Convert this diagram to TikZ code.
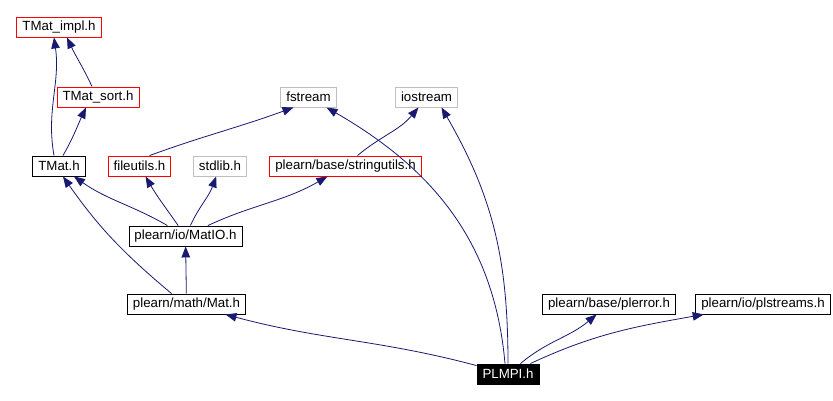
\documentclass[tikz,border=0pt]{standalone}
\usepackage{fontspec}
\setmainfont{Liberation Sans}
\usepackage{xcolor}
\usepackage{tikz}
\usetikzlibrary{arrows.meta,positioning}
\definecolor{edgeblue}{RGB}{25,25,112}
\definecolor{missgray}{RGB}{191,191,191}
\tikzset{
  box/.style={rectangle, draw=#1, fill=white, line width=0.9pt,
              minimum height=20pt, inner xsep=5.5pt, inner ysep=0pt,
              font=\fontsize{13.3}{15}\selectfont, text=black, text centered},
  arr/.style={-{Triangle[length=11pt,width=8.5pt]}, draw=edgeblue, line width=0.8pt, #1},
}

\begin{document}
\begin{tikzpicture}[x=1pt,y=-1pt]
        \useasboundingbox (0,0) rectangle (833,401);
        % include files
        \node[box=red] (tmatimpl) at (59,27) {TMat\_impl.h};
        \node[box=red] (tmatsort) at (98,97) {TMat\_sort.h};
        \node[box=missgray] (fstream) at (308.5,97) {fstream};
        \node[box=missgray] (iostream) at (426.5,97) {iostream};
        \node[box=black] (tmat) at (59,166) {TMat.h};
        \node[box=red] (fileutils) at (139.5,166) {fileutils.h};
        \node[box=missgray] (stdlib) at (220,166) {stdlib.h};
        \node[box=red] (stringutils) at (345.5,166) {plearn/base/stringutils.h};
        \node[box=black] (matio) at (185.5,236) {plearn/io/MatIO.h};
        \node[box=black] (mat) at (186.5,304) {plearn/math/Mat.h};
        \node[box=black] (plerror) at (609,304) {plearn/base/plerror.h};
        \node[box=black] (plstreams) at (763,304) {plearn/io/plstreams.h};
        \node[box=black, fill=black, text=white] (plmpi) at (508,374) {PLMPI.h};
        % dependencies
        \draw[arr] ([xshift=-6pt]tmatsort.north) to[out=115,in=-65] ([xshift=8pt]tmatimpl.south);
        \draw[arr] ([xshift=-5pt]tmat.north) to[out=100,in=-82] ([xshift=-5pt]tmatimpl.south);
        \draw[arr] ([xshift=4pt]tmat.north) to[out=60,in=-115] ([xshift=-12pt]tmatsort.south);
        \draw[arr] ([xshift=10pt]fileutils.north) to[out=20,in=-160] ([xshift=-15pt]fstream.south);
        \draw[arr] ([xshift=12pt]stringutils.north) to[out=40,in=-130] ([xshift=-8pt]iostream.south);
        \draw[arr] (matio) to[out=150,in=-35] (tmat);
        \draw[arr] (matio) to[out=125,in=-60] (fileutils);
        \draw[arr] (matio) to[out=65,in=-110] (stdlib);
        \draw[arr] (matio) to[out=25,in=-150] (stringutils);
        \draw[arr] (mat) -- (matio);
        \draw[arr] ([xshift=-15pt]mat.north) to[out=140,in=-55] ([xshift=4pt]tmat.south);
        \draw[arr] (plmpi) to[out=165,in=-15] (mat);
        \draw[arr] ([xshift=-3pt]plmpi.north) to[out=95,in=-30] ([xshift=18pt]fstream.south);
        \draw[arr] ([xshift=0pt]plmpi.north) to[out=90,in=-60] ([xshift=15pt]iostream.south);
        \draw[arr] (plmpi) to[out=40,in=-140] (plerror);
        \draw[arr] (plmpi) to[out=25,in=-170] (plstreams);
      \end{tikzpicture}
\end{document}
